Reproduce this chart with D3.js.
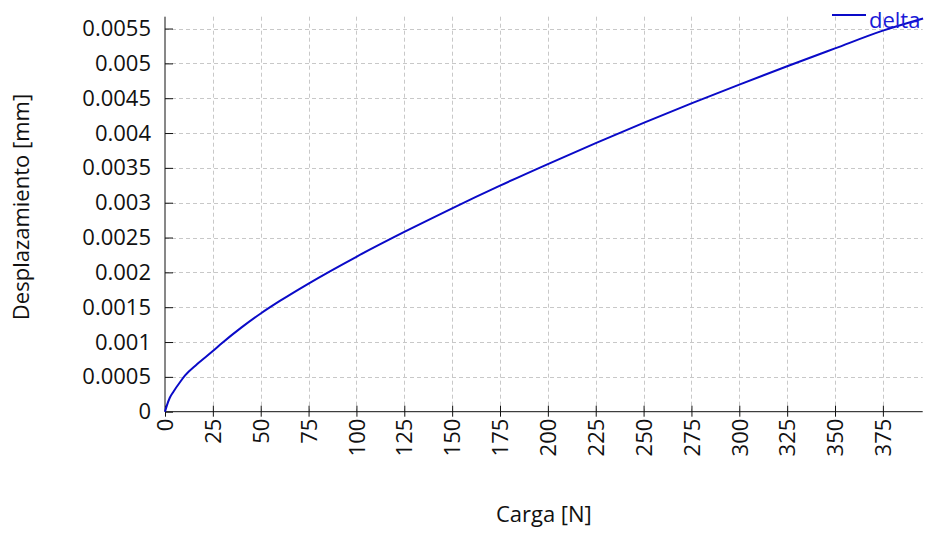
<!DOCTYPE html>
<html>
<head>
<meta charset="utf-8">
<script src="https://cdn.jsdelivr.net/npm/d3@7"></script>
<style>
  body { margin: 0; background: #fff; }
  svg text { font-family: "Open Sans", "Noto Sans", sans-serif; fill: #111; }
</style>
</head>
<body>
<div id="chart"></div>
<script>
// data
var carga = [0, 1, 2.5, 4.4, 8, 10.5, 16.7, 25, 30, 40, 50, 60, 75, 100, 125, 150, 175, 200, 225, 250, 275, 300, 325, 350, 375, 396];
var delta = [0, 0.00009, 0.0002, 0.000287, 0.00043, 0.00052, 0.00068, 0.00087, 0.00099, 0.00121, 0.00141, 0.00159, 0.00184,
             0.002224, 0.00258, 0.00292, 0.003245, 0.003555, 0.003855, 0.004145, 0.004425, 0.004695, 0.004958, 0.005215, 0.00547, 0.005645];
var xTicks = [0, 25, 50, 75, 100, 125, 150, 175, 200, 225, 250, 275, 300, 325, 350, 375];
var yTicks = [0, 0.0005, 0.001, 0.0015, 0.002, 0.0025, 0.003, 0.0035, 0.004, 0.0045, 0.005, 0.0055];
var seriesName = "delta";

(function() {
    var width = 926, height = 533;
    var mLeft = 165, mRight = 922.7, mTop = 16.7, mBottom = 411.7;
    var lineColor = "#0a0ac8";

    var points = carga.map(function(c, i) { return { x: c, y: delta[i] }; });

    var svg = d3.select("#chart").append("svg")
        .attr("width", width)
        .attr("height", height);

    var x = d3.scaleLinear().domain([0, 395.8]).range([mLeft, mRight]);
    var y = d3.scaleLinear().domain([0, 0.00567]).range([mBottom, mTop]);

    // grid
    var grid = svg.append("g").attr("class", "grid")
        .attr("stroke", "#c8c8c8").attr("stroke-dasharray", "4,3").attr("stroke-width", 1);
    grid.selectAll(".gx").data(xTicks.slice(1)).enter().append("line")
        .attr("x1", function(d) { return Math.round(x(d)) + 0.5; })
        .attr("x2", function(d) { return Math.round(x(d)) + 0.5; })
        .attr("y1", mTop).attr("y2", mBottom);
    grid.selectAll(".gy").data(yTicks.slice(1)).enter().append("line")
        .attr("y1", function(d) { return Math.round(y(d)) + 0.5; })
        .attr("y2", function(d) { return Math.round(y(d)) + 0.5; })
        .attr("x1", mLeft).attr("x2", mRight);

    // axes
    var xAxis = d3.axisBottom(x).tickValues(xTicks).tickSize(5).tickFormat(d3.format("d"));
    var yAxis = d3.axisLeft(y).tickValues(yTicks).tickSize(8).tickPadding(6)
        .tickFormat(function(d) { return d === 0 ? "0" : String(+d.toFixed(4)); });

    var gx = svg.append("g").attr("transform", "translate(0," + mBottom + ")").call(xAxis);
    gx.select(".domain").attr("d", "M" + mLeft + ",0H" + mRight).attr("stroke", "#111");
    gx.selectAll(".tick line").attr("y1", -6).attr("stroke", "#111");
    gx.selectAll(".tick text")
        .attr("font-size", 22)
        .attr("transform", "rotate(-90)")
        .attr("text-anchor", "end")
        .attr("x", -7).attr("y", 0).attr("dy", "0.35em");

    var gy = svg.append("g").attr("transform", "translate(" + mLeft + ",0)").call(yAxis);
    gy.select(".domain").attr("d", "M0," + mTop + "V" + mBottom).attr("stroke", "#111");
    gy.selectAll(".tick line").attr("x2", 8).attr("stroke", "#111");
    gy.selectAll(".tick text").attr("font-size", 22);

    // axis titles
    svg.append("text")
        .attr("x", (mLeft + mRight) / 2).attr("y", 522)
        .attr("text-anchor", "middle").attr("font-size", 22)
        .text("Carga [N]");

    svg.append("text")
        .attr("transform", "translate(29,207)rotate(-90)")
        .attr("text-anchor", "middle").attr("font-size", 22)
        .text("Desplazamiento [mm]");

    // series
    var line = d3.line()
        .x(function(d) { return x(d.x); })
        .y(function(d) { return y(d.y); })
        .curve(d3.curveMonotoneX);

    svg.append("path")
        .datum(points)
        .attr("fill", "none")
        .attr("stroke", lineColor)
        .attr("stroke-width", 2)
        .attr("d", line);

    // legend
    var legend = svg.append("g").attr("class", "legend");
    legend.append("line")
        .attr("x1", 832).attr("x2", 866).attr("y1", 15).attr("y2", 15)
        .attr("stroke", lineColor).attr("stroke-width", 2);
    legend.append("text")
        .attr("x", 869).attr("y", 28)
        .attr("font-size", 22)
        .style("fill", "#1a1ad8")
        .text(seriesName);
})();
</script>
</body>
</html>
